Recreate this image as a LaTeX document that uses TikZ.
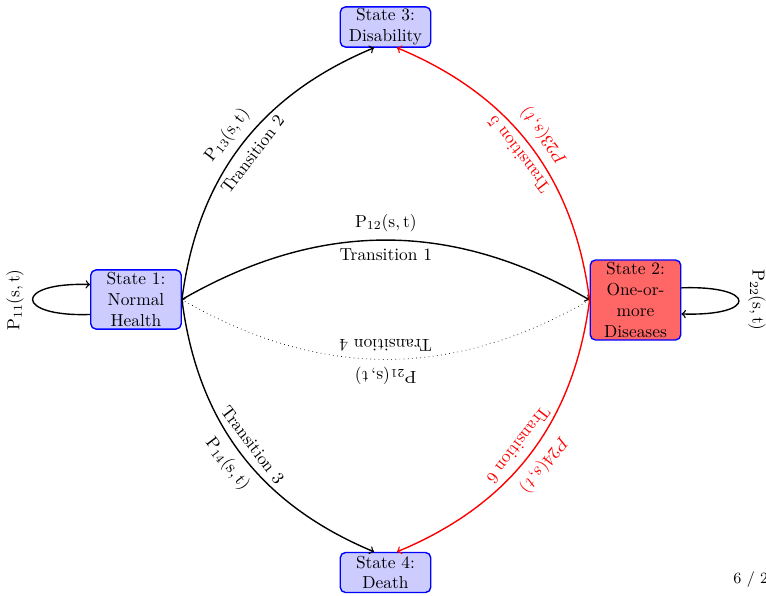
\documentclass[tikz,border=0pt]{standalone}
\usetikzlibrary{arrows}
\begin{document}
\begin{tikzpicture}[x=0.575pt,y=0.575pt,
  statebox/.style={draw=blue,thick,rounded corners=3pt,align=center,
    text width=46pt,inner sep=1pt,minimum width=52pt,font=\normalsize},
  blk/.style={->,thick,black},
  rd/.style={->,thick,red},
  lbl/.style={sloped,allow upside down,font=\normalsize,inner sep=4.5pt},
  rlbl/.style={lbl,text=red}]
\useasboundingbox (0,0) rectangle (766,595);
\node[statebox,fill=blue!20,minimum height=34pt] (s1) at (136,295.5) {State 1:\\Normal\\Health};
\node[statebox,fill=red!60,minimum height=46pt] (s2) at (635.5,295) {State 2:\\One-or-\\more\\Diseases};
\node[statebox,fill=blue!20,minimum height=23pt] (s3) at (385.5,568) {State 3:\\Disability};
\node[statebox,fill=blue!20,minimum height=23pt] (s4) at (385.5,22.5) {State 4:\\Death};
% transitions
\draw[blk] (s1.east) to[bend left=30]
  node[lbl,above] {$\mathrm{P}_{12}(\mathrm{s},\mathrm{t})$}
  node[lbl,below] {Transition 1} (s2.west);
\draw[->,dotted] (s2.west) to[bend left=30]
  node[lbl,above] {$\mathrm{P}_{21}(\mathrm{s},\mathrm{t})$}
  node[lbl,below] {Transition 4} (s1.east);
\draw[blk] (s1.east) to[bend left=30]
  node[lbl,above] {$\mathrm{P}_{13}(\mathrm{s},\mathrm{t})$}
  node[lbl,below] {Transition 2} (s3.241);
\draw[blk] (s1.east) to[bend right=30]
  node[lbl,above] {Transition 3}
  node[lbl,below] {$\mathrm{P}_{14}(\mathrm{s},\mathrm{t})$} (s4.119);
\draw[rd] (s2.west) to[bend right=30]
  node[rlbl,above] {Transition 5}
  node[rlbl,below] {$P23(s,t)$} (s3.299);
\draw[rd] (s2.west) to[bend left=30]
  node[rlbl,above] {$P24(s,t)$}
  node[rlbl,below] {Transition 6} (s4.61);
% self loops
\coordinate (a1) at ([yshift=-8.6pt]s1.west);
\coordinate (b1) at ([yshift=8.6pt]s1.west);
\draw[blk] (a1) .. controls ([shift={(-44pt,-1.5pt)}]a1) and ([shift={(-44pt,1.5pt)}]b1) .. (b1);
\node[rotate=90] (l11) at (15,295) {$\mathrm{P}_{11}(\mathrm{s},\mathrm{t})$};
\coordinate (a2) at ([yshift=7pt]s2.east);
\coordinate (b2) at ([yshift=-8pt]s2.east);
\draw[blk] (a2) .. controls ([shift={(44pt,1.5pt)}]a2) and ([shift={(44pt,-1.5pt)}]b2) .. (b2);
\node[rotate=-90] (l22) at (757,295) {$\mathrm{P}_{22}(\mathrm{s},\mathrm{t})$};
\node[anchor=west,font=\small,inner sep=0pt] (pg) at (733,15) {6 / 2};
\end{tikzpicture}
\end{document}
